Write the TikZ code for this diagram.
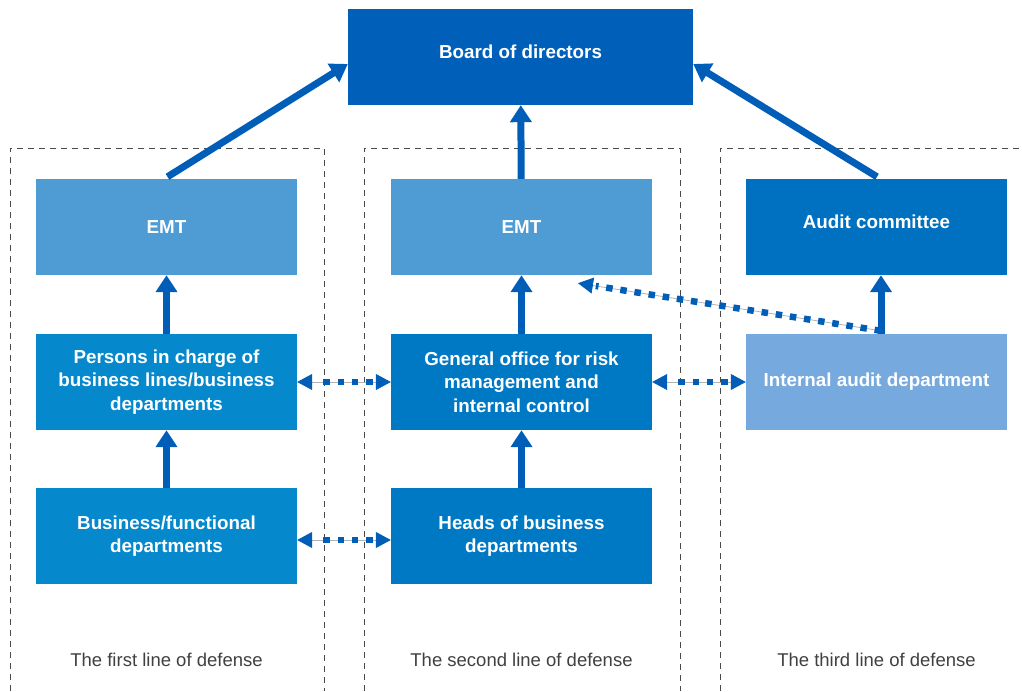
\documentclass[tikz,border=0pt]{standalone}
\usepackage{fontspec}
\setmainfont{Liberation Sans}
\usepackage{xcolor}
\usepackage{tikz}
\usetikzlibrary{arrows.meta, positioning}

\definecolor{boardblue}{HTML}{005FB8}
\definecolor{emtblue}{HTML}{4F9BD4}
\definecolor{auditblue}{HTML}{0070C0}
\definecolor{firstblue}{HTML}{0588CC}
\definecolor{secondblue}{HTML}{0079C5}
\definecolor{internalblue}{HTML}{76A9DE}
\definecolor{arrowblue}{HTML}{005EB8}
\definecolor{frame}{HTML}{4A4A4A}

\begin{document}
\begin{tikzpicture}[x=1pt, y=-1pt,
  unit/.style={rectangle, minimum width=261pt, minimum height=96pt, inner sep=0pt, align=center, text=white, font=\fontsize{18.8}{23.5}\selectfont\bfseries},
  flow/.style={draw=arrowblue, line width=7pt, -big},
  link/.style={draw=gray!60, line width=0.8pt},
  dots/.style={draw=arrowblue, line width=6.5pt, dash pattern=on 6.5pt off 7.8pt},
  zone/.style={draw=frame, line width=0.9pt, dash pattern=on 6pt off 5pt},
  caption/.style={text=black!75, font=\fontsize{18.5}{22}\selectfont},
  big/.tip={Triangle[length=17pt,width=21pt]},
  small/.tip={Triangle[length=15pt,width=16pt,color=arrowblue]}
]
\useasboundingbox (0,0) rectangle (1022,691);

% the three lines of defense
\draw[zone] (10,691) -- (10,148) -- (324,148) -- (324,691);
\draw[zone] (364,691) -- (364,148) -- (680,148) -- (680,691);
\draw[zone] (720,691) -- (720,148) -- (1022,148);

\node[unit, fill=boardblue, minimum width=345pt, text depth=10pt] (board) at (520.5,57) {Board of directors};

\node[unit, fill=emtblue] (emt1) at (166.5,227) {EMT};
\node[unit, fill=firstblue] (lines1) at (166.5,382) {Persons in charge of\\business lines/business\\departments};
\node[unit, fill=firstblue] (dept1) at (166.5,536) {Business/functional\\departments};

\node[unit, fill=emtblue] (emt2) at (521.5,227) {EMT};
\node[unit, fill=secondblue] (office2) at (521.5,382) {General office for risk\\management and\\internal control};
\node[unit, fill=secondblue] (heads2) at (521.5,536) {Heads of business\\departments};

\node[unit, fill=auditblue, text depth=10pt] (committee3) at (876.5,227) {Audit committee};
\node[unit, fill=internalblue] (internal3) at (876.5,382) {Internal audit department};

\node[caption] (first) at (166.5,660) {The first line of defense};
\node[caption] (second) at (521.5,660) {The second line of defense};
\node[caption] (third) at (876.5,660) {The third line of defense};

% reporting lines
\draw[flow] (dept1) -- (lines1);
\draw[flow] (lines1) -- (emt1);
\draw[flow] (heads2) -- (office2);
\draw[flow] (office2) -- (emt2);
\draw[flow] (emt2) -- (board);
\draw[flow] ([xshift=4.5pt]internal3.north) -- ([xshift=4.5pt]committee3.south);
\draw[flow] ([xshift=1pt,yshift=2pt]emt1.north) -- ([yshift=-7pt]board.west);
\draw[flow] ([xshift=0.5pt,yshift=2pt]committee3.north) -- ([yshift=-7pt]board.east);

% communication between the lines
\coordinate (emt2tip) at ([xshift=56.5pt,yshift=-8pt]emt2.south);
\coordinate (audit3base) at ([xshift=4.5pt,yshift=3pt]internal3.north);

\draw[link, small-small] (lines1) -- (office2);
\draw[dots, shorten <=26pt, shorten >=17pt] (lines1) -- (office2);

\draw[link, small-small] (office2) -- (internal3);
\draw[dots, shorten <=26pt, shorten >=17pt] (office2) -- (internal3);

\draw[link, small-small] ([yshift=-4pt]dept1.east) -- ([yshift=-4pt]heads2.west);
\draw[dots, shorten <=26pt, shorten >=17pt] ([yshift=-4pt]dept1.east) -- ([yshift=-4pt]heads2.west);

\draw[link, -small] (audit3base) -- (emt2tip);
\draw[dots, shorten >=18pt] (audit3base) -- (emt2tip);

\end{tikzpicture}
\end{document}
